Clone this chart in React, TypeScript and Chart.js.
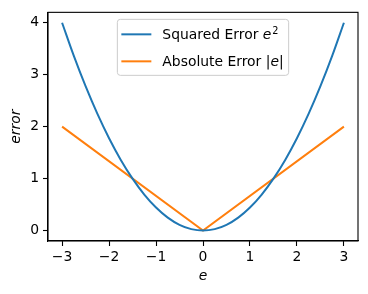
import React, { useEffect, useRef } from "react";
import { Chart, registerables } from "chart.js";

Chart.register(...registerables);

const eValues = [-3, -2.75, -2.5, -2.25, -2, -1.75, -1.5, -1.25, -1, -0.75, -0.5, -0.25, 0, 0.25, 0.5, 0.75, 1, 1.25, 1.5, 1.75, 2, 2.25, 2.5, 2.75, 3];
const squaredError = [4, 3.361, 2.778, 2.25, 1.778, 1.361, 1, 0.694, 0.444, 0.25, 0.111, 0.028, 0, 0.028, 0.111, 0.25, 0.444, 0.694, 1, 1.361, 1.778, 2.25, 2.778, 3.361, 4];
const absE = [-3, 0, 3];
const absoluteError = [2, 0, 2];
const xTicks = [-3, -2, -1, 0, 1, 2, 3];
const yTicks = [0, 1, 2, 3, 4];

const BLUE = "#1f77b4";
const ORANGE = "#ff7f0e";
const FONT = "DejaVu Sans";
const FS = 13.9;

const fmt = (v: number) => (v < 0 ? "\u2212" + Math.abs(v) : String(v));

const framePlugin = {
  id: "frameAndLegend",
  afterDraw(chart: any) {
    const ctx = chart.ctx as CanvasRenderingContext2D;
    const a = chart.chartArea;
    ctx.save();
    ctx.strokeStyle = "#000";
    ctx.lineWidth = 1.1;
    ctx.strokeRect(a.left, a.top, a.right - a.left, a.bottom - a.top);

    // legend
    const normal = `${FS}px "${FONT}"`;
    const italic = `oblique ${FS}px "${FONT}"`;
    const small = `${FS * 0.7}px "${FONT}"`;
    ctx.font = normal;
    const w1a = ctx.measureText("Squared Error ").width;
    ctx.font = italic;
    const wE = ctx.measureText("e").width;
    ctx.font = small;
    const w2 = ctx.measureText("2").width;
    ctx.font = normal;
    const w2a = ctx.measureText("Absolute Error |").width;
    const wBar = ctx.measureText("|").width;
    const textW = Math.max(w1a + wE + w2 + 1, w2a + wE + wBar);
    const padL = 4, lineLen = 30, gap = 11, padR = 5;
    const boxW = padL + lineLen + gap + textW + padR;
    const boxH = 56;
    const cx = (a.left + a.right) / 2;
    const bx = cx - boxW / 2;
    const by = a.top + 7;
    const r = 3;
    ctx.beginPath();
    ctx.moveTo(bx + r, by);
    ctx.arcTo(bx + boxW, by, bx + boxW, by + boxH, r);
    ctx.arcTo(bx + boxW, by + boxH, bx, by + boxH, r);
    ctx.arcTo(bx, by + boxH, bx, by, r);
    ctx.arcTo(bx, by, bx + boxW, by, r);
    ctx.closePath();
    ctx.fillStyle = "rgba(255,255,255,0.8)";
    ctx.fill();
    ctx.strokeStyle = "#cccccc";
    ctx.lineWidth = 1;
    ctx.stroke();

    const rows = [by + 15, by + 42];
    const colors = [BLUE, ORANGE];
    rows.forEach((y, i) => {
      ctx.strokeStyle = colors[i];
      ctx.lineWidth = 2;
      ctx.beginPath();
      ctx.moveTo(bx + padL, y);
      ctx.lineTo(bx + padL + lineLen, y);
      ctx.stroke();
    });
    ctx.fillStyle = "#000";
    ctx.textBaseline = "alphabetic";
    ctx.textAlign = "left";
    const tx = bx + padL + lineLen + gap;
    const base1 = rows[0] + 5;
    ctx.font = normal;
    ctx.fillText("Squared Error ", tx, base1);
    ctx.font = italic;
    ctx.fillText("e", tx + w1a, base1);
    ctx.font = small;
    ctx.fillText("2", tx + w1a + wE + 1, base1 - 5);
    const base2 = rows[1] + 5;
    ctx.font = normal;
    ctx.fillText("Absolute Error |", tx, base2);
    ctx.font = italic;
    ctx.fillText("e", tx + w2a, base2);
    ctx.font = normal;
    ctx.fillText("|", tx + w2a + wE, base2);
    ctx.restore();
  },
};

export default function App() {
  const ref = useRef<HTMLCanvasElement>(null);
  useEffect(() => {
    document.body.style.margin = "0";
    const canvas = ref.current!;
    const chart = new Chart(canvas, {
      type: "line",
      data: {
        datasets: [
          {
            label: "Squared Error",
            data: eValues.map((x, i) => ({ x, y: squaredError[i] })),
            borderColor: BLUE,
            borderWidth: 2,
            pointRadius: 0,
            cubicInterpolationMode: "monotone",
            fill: false,
          },
          {
            label: "Absolute Error",
            data: absE.map((x, i) => ({ x, y: absoluteError[i] })),
            borderColor: ORANGE,
            borderWidth: 2,
            pointRadius: 0,
            tension: 0,
            fill: false,
          },
        ],
      },
      options: {
        responsive: false,
        animation: false,
        layout: { padding: { left: 0, right: 10, top: 11, bottom: 0 } },
        plugins: { legend: { display: false }, tooltip: { enabled: false } },
        scales: {
          x: {
            type: "linear",
            min: -3.3,
            max: 3.3,
            afterBuildTicks: (s: any) => {
              s.ticks = xTicks.map((v) => ({ value: v }));
            },
            afterFit: (s: any) => {
              s.height = 53;
            },
            grid: { drawOnChartArea: false, drawTicks: true, tickLength: 5, tickColor: "#000", tickWidth: 1.1 },
            border: { display: true, color: "#000", width: 1.1 },
            ticks: {
              color: "#000",
              font: { family: FONT, size: FS },
              padding: 3,
              maxRotation: 0,
              autoSkip: false,
              callback: (v: any) => fmt(Number(v)),
            },
            title: {
              display: true,
              text: "e",
              color: "#000",
              font: { family: FONT, size: FS, style: "italic" },
              padding: { top: 0, bottom: 9 },
            },
          },
          y: {
            type: "linear",
            min: -0.2,
            max: 4.2,
            afterBuildTicks: (s: any) => {
              s.ticks = yTicks.map((v) => ({ value: v }));
            },
            afterFit: (s: any) => {
              s.width = 48;
            },
            grid: { drawOnChartArea: false, drawTicks: true, tickLength: 5, tickColor: "#000", tickWidth: 1.1 },
            border: { display: true, color: "#000", width: 1.1 },
            ticks: {
              color: "#000",
              font: { family: FONT, size: FS },
              padding: 4,
              autoSkip: false,
              callback: (v: any) => fmt(Number(v)),
            },
            title: {
              display: true,
              text: "error",
              color: "#000",
              font: { family: FONT, size: FS, style: "italic" },
              padding: { top: 8, bottom: 0 },
            },
          },
        },
      },
      plugins: [framePlugin],
    } as any);
    return () => chart.destroy();
  }, []);
  return <canvas ref={ref} width={368} height={294} style={{ display: "block" }} />;
}
